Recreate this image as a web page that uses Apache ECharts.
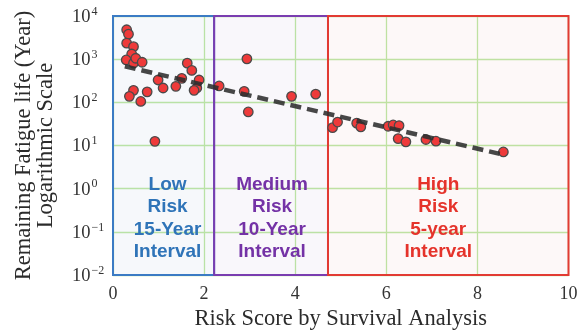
<!DOCTYPE html>
<html>
<head>
<meta charset="utf-8">
<script src="https://cdn.jsdelivr.net/npm/echarts@6/dist/echarts.min.js"></script>
<style>
  html, body { margin: 0; padding: 0; background: #ffffff; }
  #chart { width: 584px; height: 336px; }
</style>
</head>
<body>
<div id="chart"></div>
<script>
// Risk score of each inspected detail and its remaining fatigue life (years)
const riskScore = [
  0.30, 0.34, 0.30, 0.45, 0.41, 0.29, 0.45, 0.50, 0.64, 0.99,
  1.10, 1.38, 1.51, 1.63, 1.73, 1.89, 1.84, 1.78, 0.45, 0.36,
  0.61, 0.75, 0.92,
  2.33, 2.94, 2.88, 2.97, 3.92, 4.45,
  4.82, 4.93, 5.35, 5.44, 6.04, 6.15, 6.28, 6.26, 6.43, 6.87,
  7.09, 8.57
];
const fatigueLife = [
  4800, 3800, 2350, 1950, 1320, 960, 810, 1050, 850, 330,
  215, 235, 360, 810, 550, 330, 215, 190, 190, 138,
  105, 175, 12.5,
  240, 1020, 180, 60, 138, 155,
  26, 35, 33, 27, 28, 30, 29, 14.5, 12.2, 13.8,
  12.6, 7.1
];

// Exponential trend (straight on the log axis)
const trendRisk = [0.26, 8.5];
const trendLife = [680, 6.4];

// Risk bands: edges on the risk-score axis and their captions
const bandEdges = [0, 2.22, 4.72, 10];
const bandCaptions = [
  ['Low', 'Risk', '15-Year', 'Interval'],
  ['Medium', 'Risk', '10-Year', 'Interval'],
  ['High', 'Risk', '5-year', 'Interval']
];

// Axis ticks
const xTicks = [0, 2, 4, 6, 8, 10];
const yExponents = [-2, -1, 0, 1, 2, 3, 4];

const bandStyles = [
  { line: '#3b7bc4', fill: 'rgba(70,110,170,0.05)', text: '#2f74b8', dx: 4 },
  { line: '#7a3db0', fill: 'rgba(110,70,160,0.045)', text: '#7432a6', dx: 1 },
  { line: '#e23b33', fill: 'rgba(200,80,70,0.04)', text: '#e5332b', dx: -10 }
];

const yMin = Math.pow(10, yExponents[0]);
const yMax = Math.pow(10, yExponents[yExponents.length - 1]);

const superscript = (e) => String(e).replace('-', '\u2212');

const markAreaData = bandCaptions.map((caption, i) => [
  {
    xAxis: bandEdges[i],
    yAxis: yMin,
    itemStyle: {
      color: bandStyles[i].fill,
      borderColor: bandStyles[i].line,
      borderWidth: 2
    },
    label: {
      show: true,
      position: 'insideBottom',
      distance: 13,
      offset: [bandStyles[i].dx, 0],
      formatter: caption.join('\n'),
      color: bandStyles[i].text,
      fontFamily: 'Liberation Sans, Arial, sans-serif',
      fontWeight: 'bold',
      fontSize: 19,
      lineHeight: 22.5,
      align: 'center'
    }
  },
  { xAxis: bandEdges[i + 1], yAxis: yMax }
]);

const chart = echarts.init(document.getElementById('chart'), null, { renderer: 'canvas' });

const serif = 'Liberation Serif, DejaVu Serif, serif';

chart.setOption({
  animation: false,
  backgroundColor: '#ffffff',
  grid: { left: 113, right: 15.5, top: 16, bottom: 60 },
  xAxis: {
    type: 'value',
    min: xTicks[0],
    max: xTicks[xTicks.length - 1],
    interval: xTicks[1] - xTicks[0],
    name: 'Risk Score by Survival Analysis',
    nameLocation: 'middle',
    nameGap: 32,
    nameTextStyle: { fontFamily: serif, fontSize: 22.5, color: '#2b2b2b' },
    axisLine: { show: false },
    axisTick: { show: false },
    axisLabel: { fontFamily: serif, fontSize: 18, color: '#333', margin: 10 },
    splitLine: { show: true, lineStyle: { color: '#bfe8a6', width: 1.3 } }
  },
  yAxis: {
    type: 'log',
    logBase: 10,
    min: yMin,
    max: yMax,
    interval: 1,
    name: 'Remaining Fatigue life (Year)\nLogarithmic Scale',
    nameLocation: 'middle',
    nameGap: 56,
    nameTextStyle: { fontFamily: serif, fontSize: 22.5, color: '#2b2b2b', lineHeight: 22 },
    axisLine: { show: false },
    axisTick: { show: false },
    axisLabel: {
      align: 'left',
      margin: 41,
      fontFamily: serif,
      color: '#333',
      formatter: (v) => {
        const e = Math.round(Math.log10(v));
        return '{b|10}{s|' + superscript(e) + '}';
      },
      rich: {
        b: { fontFamily: serif, fontSize: 18.5, color: '#333', lineHeight: 21, verticalAlign: 'bottom' },
        s: { fontFamily: serif, fontSize: 12, color: '#333', lineHeight: 21, verticalAlign: 'top', padding: [0, 0, 0, 1] }
      }
    },
    splitLine: { show: true, lineStyle: { color: '#bfe8a6', width: 1.3 } }
  },
  series: [
    {
      type: 'scatter',
      name: 'bands',
      data: [],
      silent: true,
      markArea: { silent: true, data: markAreaData }
    },
    {
      type: 'scatter',
      name: 'details',
      data: riskScore.map((x, i) => [x, fatigueLife[i]]),
      symbol: 'circle',
      symbolSize: 9.5,
      itemStyle: { color: '#ee3a3a', borderColor: '#4a4a4a', borderWidth: 1.3, opacity: 1 },
      z: 3
    },
    {
      type: 'line',
      name: 'trend',
      data: trendRisk.map((x, i) => [x, trendLife[i]]),
      symbol: 'none',
      lineStyle: { color: '#2e2e2e', width: 4.5, type: [11, 6], opacity: 0.88 },
      z: 4
    }
  ]
});
</script>
</body>
</html>
